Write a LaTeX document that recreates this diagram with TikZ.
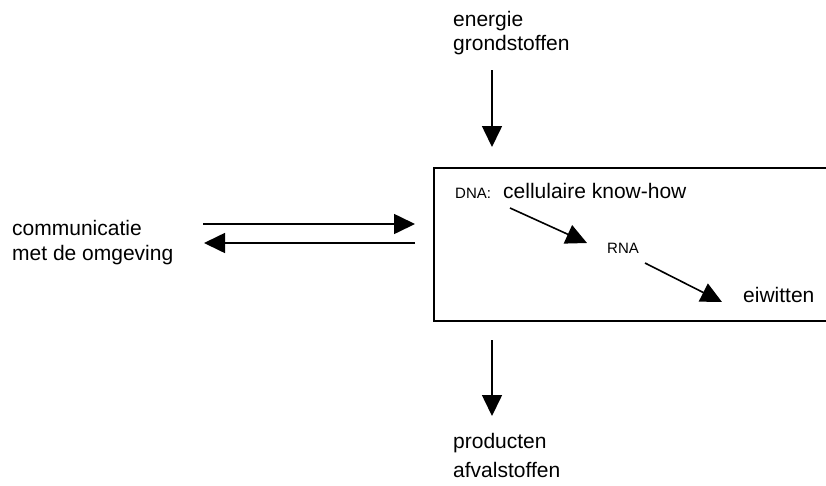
\documentclass[tikz,border=0pt]{standalone}
\usepackage{fontspec}
\setmainfont{Liberation Sans}
\usetikzlibrary{arrows.meta}
\begin{document}
\begin{tikzpicture}[x=1pt,y=-1pt,
  lbl/.style={inner sep=0pt, anchor=base west, font=\fontsize{21}{24}\selectfont},
  small/.style={inner sep=0pt, anchor=base west, font=\fontsize{15}{18}\selectfont},
  flow/.style={line width=1.6pt, -{Triangle[length=21pt,width=20pt]}},
  cell/.style={line width=2pt}]
\useasboundingbox (0,0) rectangle (826,485);

% inputs
\node[lbl] (en) at (453,26) {energie};
\node[lbl] (gr) at (453,50) {grondstoffen};

% exchange with the environment
\node[lbl] (com) at (12,235) {communicatie};
\node[lbl] (omg) at (12,260) {met de omgeving};

% the cell, open to the right
\coordinate (celltr) at (826,168);
\coordinate (cellbl) at (434,321);
\coordinate (cellbr) at (826,321);
\draw[cell] (celltr) -| (cellbl) -- (cellbr);

% contents of the cell
\node[small] (dna) at (455,198) {DNA:};
\node[lbl] (know) at (503,198) {cellulaire know-how};
\node[small] (rna) at (607,253) {RNA};
\node[lbl] (eiw) at (743,302) {eiwitten};

% outputs
\node[lbl] (prod) at (453,448) {producten};
\node[lbl] (afv) at (453,477) {afvalstoffen};

% connector end points
\coordinate (inA) at (492,70);
\coordinate (inB) at (492,147);
\coordinate (outA) at (492,340);
\coordinate (outB) at (492,416);
\coordinate (commL) at (203,224);
\coordinate (commR) at (415,224);
\coordinate (backR) at (415,243);
\coordinate (backL) at (204,243);
\coordinate (dnaS) at (510,208);
\coordinate (rnaE) at (587,243);
\coordinate (rnaS) at (645,263);
\coordinate (eiwE) at (722,302);

\draw[flow] (inA) -- (inB);
\draw[flow] (outA) -- (outB);
\draw[flow] (commL) -- (commR);
\draw[flow] (backR) -- (backL);
\draw[flow] (dnaS) -- (rnaE);
\draw[flow] (rnaS) -- (eiwE);
\end{tikzpicture}
\end{document}
